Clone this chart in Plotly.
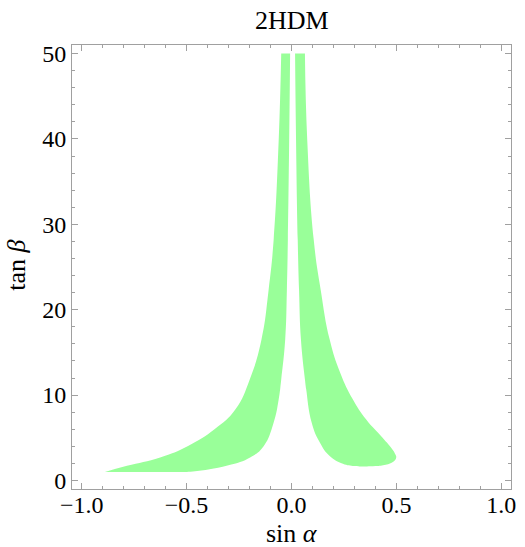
import plotly.graph_objects as go

# Left region: bottom/inner boundary (from tip, along tanβ=1, up the inner edge)
left_inner_x = [-0.889, -0.70, -0.54, -0.47, -0.305, -0.195, -0.132, -0.085,
                -0.061, -0.049, -0.030, -0.022, -0.0174, -0.011, -0.0066]
left_inner_y = [1.0, 1.0, 1.0, 1.05, 1.75, 2.72, 4.04, 6.78,
                9.5, 11.83, 16.5, 22.35, 28.18, 39.87, 50.0]
# Left region: outer boundary (from tip up to tanβ=50)
left_outer_x = [-0.889, -0.784, -0.626, -0.493, -0.367, -0.267, -0.199, -0.143,
                -0.109, -0.085, -0.061, -0.049]
left_outer_y = [1.0, 1.71, 2.69, 4.04, 5.99, 8.33, 11.83, 16.5,
                22.35, 28.18, 39.87, 50.0]
# Right region: inner edge down, around the bottom and tip, then outer edge up
right_x = [0.017, 0.0217, 0.0297, 0.036, 0.045, 0.064, 0.070, 0.096, 0.135, 0.182,
           0.245, 0.30, 0.339, 0.40, 0.449, 0.485, 0.499, 0.492, 0.480, 0.433,
           0.355, 0.292, 0.232, 0.182, 0.139, 0.106, 0.075, 0.064]
right_y = [50.0, 39.87, 28.18, 22.35, 16.5, 11.83, 10.67, 6.78, 4.44, 2.87,
           1.95, 1.68, 1.64, 1.68, 1.85, 2.2, 2.69, 3.2, 3.66, 5.02,
           7.16, 9.5, 12.62, 16.5, 22.35, 28.18, 39.87, 50.0]

x_ticks = [-1.0, -0.5, 0.0, 0.5, 1.0]
y_ticks = [0, 10, 20, 30, 40, 50]

fill = "rgb(153,255,153)"
frame = "#a0a0a0"
serif = "Liberation Serif"
smooth = 1.3

fig = go.Figure()
fig.add_trace(go.Scatter(x=left_inner_x, y=left_inner_y, mode="lines",
                         line=dict(width=0, shape="spline", smoothing=smooth),
                         hoverinfo="skip", showlegend=False))
fig.add_trace(go.Scatter(x=left_outer_x, y=left_outer_y, mode="lines", fill="tonexty",
                         fillcolor=fill,
                         line=dict(width=0, shape="spline", smoothing=smooth),
                         hoverinfo="skip", showlegend=False))
fig.add_trace(go.Scatter(x=right_x, y=right_y, mode="lines", fill="toself",
                         fillcolor=fill,
                         line=dict(width=0, shape="spline", smoothing=smooth),
                         hoverinfo="skip", showlegend=False))

axis_common = dict(showgrid=False, zeroline=False, showline=True, linecolor=frame,
                   linewidth=1, mirror="ticks", ticks="inside", ticklen=6,
                   tickcolor=frame, tickfont=dict(family=serif, size=24, color="black"))
fig.update_xaxes(range=[-1.046, 1.046], tickvals=x_ticks, tickformat=".1f",
                 ticklabelstandoff=-6,
                 minor=dict(ticks="inside", ticklen=3, dtick=0.1, tickcolor=frame),
                 **axis_common)
fig.update_yaxes(range=[-1, 51], tickvals=y_ticks,
                 minor=dict(ticks="inside", ticklen=3, dtick=2, tickcolor=frame),
                 **axis_common)

fig.add_annotation(text="2HDM", xref="paper", yref="paper", x=0.5, y=1.056,
                   xanchor="center", yanchor="middle", showarrow=False,
                   font=dict(family=serif, size=26, color="black"))
fig.add_annotation(text="sin <i>α</i>", xref="paper", yref="paper", x=0.5, y=-0.101,
                   xanchor="center", yanchor="middle", showarrow=False,
                   font=dict(family=serif, size=26, color="black"))
fig.add_annotation(text="tan <i>β</i>", xref="paper", yref="paper", x=-0.128, y=0.5045,
                   xanchor="center", yanchor="middle", showarrow=False, textangle=-90,
                   font=dict(family=serif, size=26, color="black"))

fig.update_layout(width=525, height=547, margin=dict(l=72, r=9, t=45, b=58),
                  plot_bgcolor="white", paper_bgcolor="white")

fig.write_html("out.html")
